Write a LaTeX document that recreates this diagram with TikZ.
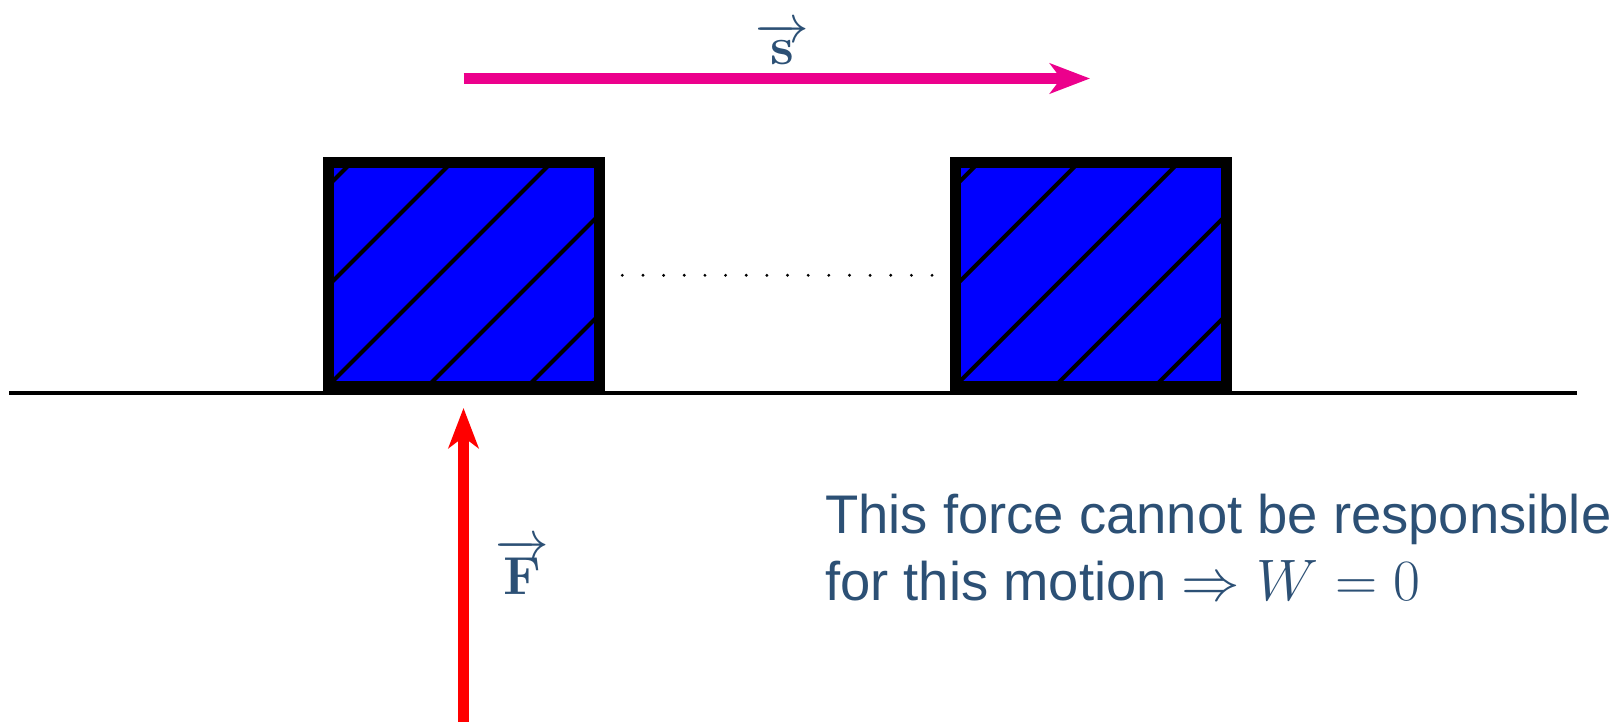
\documentclass[tikz,border=0pt]{standalone}
\usepackage{fix-cm}
\usepackage[no-math]{fontspec}
\setmainfont{Liberation Sans}
\usetikzlibrary{arrows.meta}
\definecolor{txtblue}{RGB}{44,80,117}
\definecolor{pinkv}{RGB}{236,0,140}
\definecolor{redv}{RGB}{255,0,0}
\definecolor{blockblue}{RGB}{0,0,255}
\tikzset{
  block/.style={rectangle, draw=black, line width=11pt, fill=blockblue,
    minimum width=271pt, minimum height=223pt, inner sep=0pt,
    path picture={
      \foreach \k in {-3,...,3}
        \draw[line width=4pt, black] ([xshift=\k*100pt]path picture bounding box.south west) -- ++(300,-300);
    }},
  vecarrow/.style={line width=11pt, -{Stealth[length=40pt,width=30pt,inset=11pt]}},
  lbl/.style={text=txtblue, inner sep=0pt, font=\fontsize{53.5}{64}\selectfont},
  txt/.style={text=txtblue, inner sep=0pt, font=\fontsize{54.4}{66}\selectfont},
  ground/.style={line width=4.5pt, black}
}
\begin{document}
\begin{tikzpicture}[x=1pt,y=-1pt]
\useasboundingbox (0,0) rectangle (1615,722);
% ground
\coordinate (g0) at (9,392.8);
\coordinate (g1) at (1576.5,392.8);
\draw[ground] (g0) -- (g1);
% blocks
\node[block] (b1) at (463.5,274.5) {};
\node[block] (b2) at (1090.75,274.5) {};
% dots
\foreach \i in {0,...,15}
  \fill[black] (622.3+\i*20.65,275.3) circle (1.6);
% displacement arrow
\coordinate (s0) at (463.5,78.5);
\coordinate (s1) at (1090,78.5);
\draw[vecarrow, pinkv] (s0) -- (s1);
\node[lbl, anchor=base] (slbl) at (782,65) {$\overrightarrow{\mathbf{s}}$};
% force arrow
\coordinate (f0) at (463.5,722);
\coordinate (f1) at (463.5,408);
\draw[vecarrow, redv] (f0) -- (f1);
\node[lbl, anchor=base] (flbl) at (522,594) {$\overrightarrow{\mathbf{F}}$};
% text
\node[txt, anchor=base west] (t1) at (825,533) {This force cannot be responsible};
\node[txt, anchor=base west] (t2) at (825,600) {for this motion {\fontsize{58.5}{66}\selectfont$\Rightarrow W=0$}};
\end{tikzpicture}
\end{document}
